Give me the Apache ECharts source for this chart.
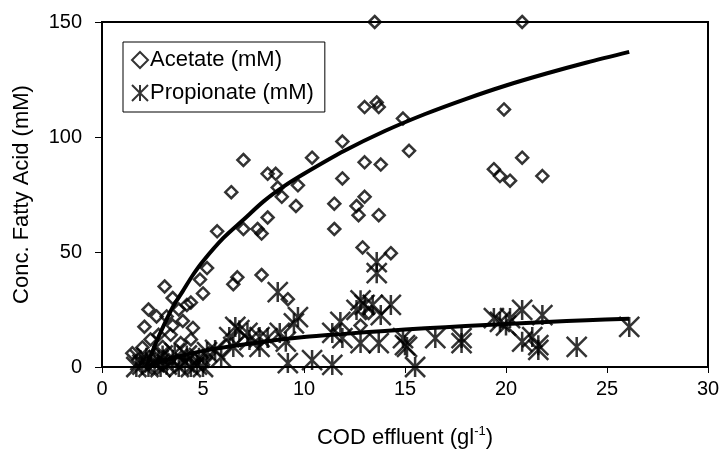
<!DOCTYPE html>
<html>
<head>
<meta charset="utf-8">
<script src="https://cdn.jsdelivr.net/npm/echarts@6/dist/echarts.min.js"></script>
<style>
  html, body { margin: 0; padding: 0; background: #fff; }
  #chart { width: 723px; height: 456px; }
</style>
</head>
<body>
<div id="chart"></div>
<script>
// values: [COD effluent (g/l), concentration (mM)]
var acetate = [
  [13.5, 150], [20.8, 150],
  [13.0, 113], [13.6, 115], [13.7, 113], [14.9, 108], [11.9, 98], [10.4, 91],
  [7.0, 90], [13.0, 89], [13.8, 88], [15.2, 94], [19.9, 112], [20.8, 91],
  [19.4, 86], [19.7, 83], [20.2, 81], [21.8, 83],
  [8.2, 84], [8.6, 84], [11.9, 82], [6.4, 76], [8.7, 78], [9.7, 79], [8.9, 74],
  [9.6, 70], [11.5, 71], [13.0, 74], [12.6, 70], [12.7, 66], [13.7, 66],
  [11.5, 60], [5.7, 59], [7.0, 60], [7.7, 60], [7.9, 58], [8.2, 65],
  [12.9, 52], [14.3, 49.5], [5.2, 43], [4.85, 38], [3.1, 35], [6.7, 39],
  [6.5, 36], [7.9, 40], [5.0, 32], [3.5, 30], [4.4, 28], [4.2, 27], [2.3, 25],
  [2.7, 22], [9.2, 29.5], [4.5, 17], [3.5, 18], [2.1, 17.5], [3.4, 14],
  [1.5, 6], [2.0, 8.5], [3.0, 8.7], [3.9, 10.4], [4.4, 12], [5.3, 6],
  [13.2, 23.5], [12.8, 18], [3.2, 22], [3.8, 25], [4.0, 20], [2.4, 12],
  [2.8, 14], [1.8, 3], [2.2, 2], [2.6, 4], [3.0, 1], [3.3, 3], [3.8, 2],
  [4.2, 5], [4.6, 3], [5.0, 1]
];

var propionate = [
  [20.8, 24.8], [21.8, 22.6], [19.4, 21.3], [19.7, 19.6], [20.2, 21.3],
  [20.0, 18], [20.8, 11], [21.3, 13], [21.6, 9.5], [21.6, 7.4], [23.5, 8.7],
  [26.1, 17.4], [16.5, 12.6], [17.8, 12.6], [17.8, 10.4], [15.5, 0],
  [14.9, 12.6], [15.0, 9.5],
  [13.6, 45.6], [13.6, 40.8], [8.7, 32.6], [9.7, 21.7], [9.5, 19],
  [12.8, 29], [13.0, 27], [13.4, 27], [14.3, 27], [12.6, 24.8], [13.8, 22.6],
  [11.8, 19.6], [11.4, 14.8], [11.9, 12.6], [12.8, 10.4], [13.7, 10.4],
  [15.1, 8.7], [9.2, 1.7], [10.4, 3], [11.4, 0.9], [7.8, 13], [8.2, 12.6],
  [7.8, 8.7], [8.8, 14.8], [9.1, 11], [7.3, 11.7],
  [6.6, 17.4], [6.8, 16], [7.2, 14.8], [6.3, 13], [6.5, 8.7], [5.6, 7.4],
  [5.9, 4.3], [5.2, 6.5],
  [1.7, 0], [2.0, 1], [2.3, 0], [2.6, 2], [2.9, 0], [3.2, 1], [3.5, 3],
  [3.8, 0], [4.1, 2], [4.4, 0], [4.7, 1], [5.0, 0], [2.2, 4], [3.0, 5],
  [3.6, 6], [4.2, 5], [4.8, 4], [2.8, 3], [1.9, 3]
];

// trend lines, points
var acetateTrend = [
  [2.2, 0], [2.6, 9], [3, 17], [3.5, 26], [4, 33], [4.5, 40], [5, 46], [6, 56],
  [7, 64], [8, 72], [9, 78.5], [10, 84], [12, 94], [14, 102.6], [16, 110],
  [18, 116.5], [20, 122.4], [22, 127.6], [24, 132.4], [26.1, 137]
];
var propionateTrend = [
  [2.2, 0], [3, 2.6], [4, 5], [5, 7], [6, 8.5], [8, 11], [10, 13], [12, 14.4],
  [14, 15.7], [16, 16.8], [18, 17.8], [20, 18.7], [22, 19.6], [24, 20.3], [26.1, 21]
];

var xTicks = { min: 0, max: 30, interval: 5 };
var yTicks = { min: 0, max: 150, interval: 50 };

var font = 'Liberation Sans, Arial, sans-serif';
var starPath = 'path://M0,0L10,10M10,0L0,10M5,0L5,10';

var chart = echarts.init(document.getElementById('chart'));
chart.setOption({
  backgroundColor: '#fff',
  animation: false,
  textStyle: { fontFamily: font, color: '#000' },
  grid: {
    left: 102, right: 15, top: 22, bottom: 89,
    show: true, borderColor: '#000', borderWidth: 2
  },
  legend: {
    data: ['Acetate (mM)', 'Propionate (mM)'],
    orient: 'vertical',
    left: 123, top: 42,
    padding: [7, 11, 8, 8],
    itemGap: 11,
    itemWidth: 16, itemHeight: 16,
    borderColor: '#000', borderWidth: 1,
    backgroundColor: '#fff',
    textStyle: { fontFamily: font, fontSize: 22, color: '#000', padding: [0, 0, 0, -3] }
  },
  xAxis: {
    type: 'value',
    min: xTicks.min, max: xTicks.max, interval: xTicks.interval,
    name: 'COD effluent (gl{sup|-1})',
    nameLocation: 'middle', nameGap: 58,
    nameTextStyle: {
      fontFamily: font, fontSize: 22, color: '#000',
      rich: { sup: { fontSize: 13, verticalAlign: 'top', padding: [0, 0, 12, 0], fontFamily: font, color: '#000' } }
    },
    axisLine: { lineStyle: { color: '#000', width: 2 } },
    axisTick: { inside: false, length: 6, lineStyle: { color: '#000' } },
    axisLabel: { fontFamily: font, fontSize: 20, color: '#000', margin: 12 },
    splitLine: { show: false }
  },
  yAxis: {
    type: 'value',
    min: yTicks.min, max: yTicks.max, interval: yTicks.interval,
    name: 'Conc. Fatty Acid (mM)',
    nameLocation: 'middle', nameGap: 69,
    nameTextStyle: { fontFamily: font, fontSize: 22, color: '#000' },
    axisLine: { lineStyle: { color: '#000', width: 2 } },
    axisTick: { inside: false, length: 7, lineStyle: { color: '#000' } },
    axisLabel: { fontFamily: font, fontSize: 20, color: '#000', margin: 20 },
    splitLine: { show: false }
  },
  series: [
    {
      name: 'Propionate (mM)',
      type: 'scatter',
      data: propionate,
      symbol: starPath,
      symbolSize: 20,
      itemStyle: { color: 'rgba(0,0,0,0)', borderColor: '#000', borderWidth: 2.5 },
      z: 3
    },
    {
      name: 'Acetate (mM)',
      type: 'scatter',
      data: acetate,
      symbol: 'diamond',
      symbolSize: 12,
      itemStyle: { color: 'rgba(0,0,0,0)', borderColor: '#000', borderWidth: 2.5 },
      z: 4
    },
    {
      name: 'acetate trend',
      type: 'line',
      data: acetateTrend,
      smooth: 0.3,
      showSymbol: false,
      lineStyle: { color: '#000', width: 4 },
      z: 5
    },
    {
      name: 'propionate trend',
      type: 'line',
      data: propionateTrend,
      smooth: 0.3,
      showSymbol: false,
      lineStyle: { color: '#000', width: 4 },
      z: 5
    }
  ]
});
</script>
</body>
</html>
